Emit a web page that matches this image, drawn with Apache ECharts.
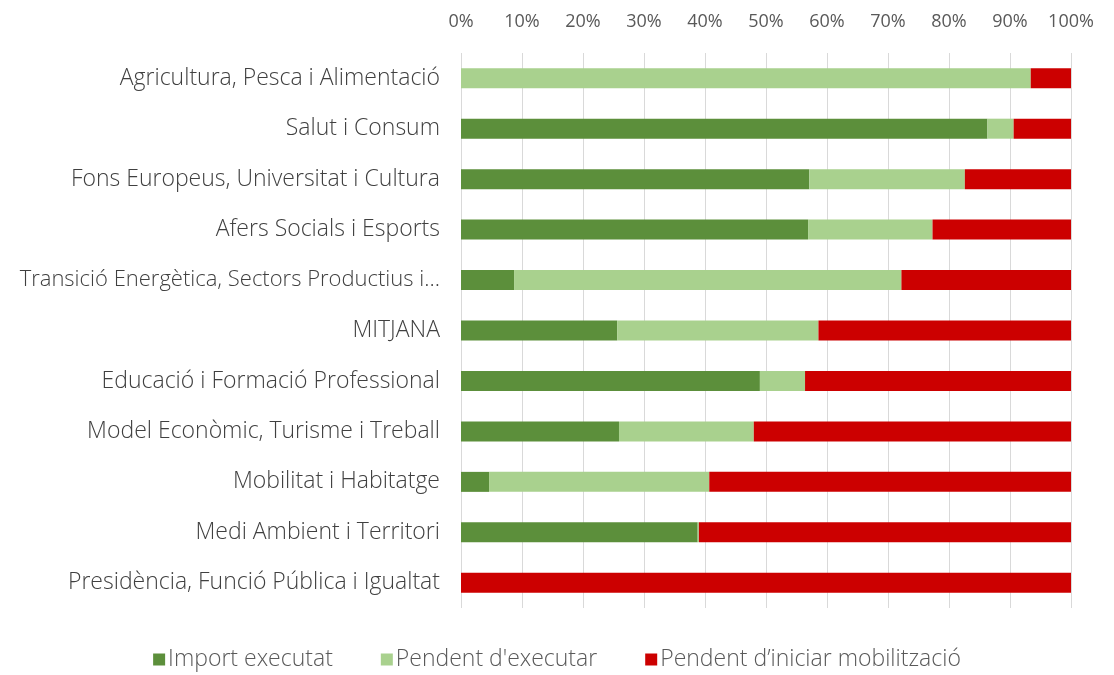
<!DOCTYPE html>
<html>
<head>
<meta charset="utf-8">
<style>
  html, body { margin: 0; padding: 0; background: #fff; }
  #chart { width: 1114px; height: 675px; }
</style>
<script src="https://cdn.jsdelivr.net/npm/echarts@6/dist/echarts.min.js"></script>
</head>
<body>
<div id="chart"></div>
<script>
(function(){
  'use strict';
  // categories, top to bottom
  var categories = [
    'Agricultura, Pesca i Alimentació',
    'Salut i Consum',
    'Fons Europeus, Universitat i Cultura',
    'Afers Socials i Esports',
    'Transició Energètica, Sectors Productius i Memòria Democràtica',
    'MITJANA',
    'Educació i Formació Professional',
    'Model Econòmic, Turisme i Treball',
    'Mobilitat i Habitatge',
    'Medi Ambient i Territori',
    'Presidència, Funció Pública i Igualtat'
  ];
  var seriesNames = ['Import executat', 'Pendent d\'executar', 'Pendent d\u2019iniciar mobilització'];
  // shares in %
  var executat   = [0,    86.3, 57.1, 56.9, 8.7,  25.6, 49.0, 25.9, 4.6,  38.8, 0];
  var pendent    = [93.4, 4.3,  25.5, 20.4, 63.5, 33.0, 7.4,  22.1, 36.1, 0.2,  0];
  var noIniciat  = [6.6,  9.4,  17.4, 22.7, 27.8, 41.4, 43.6, 52.0, 59.3, 61.0, 100];
  var colors = ['#5C8F3B', '#A9D18E', '#CC0000'];
  var tickLabels = ['0%','10%','20%','30%','40%','50%','60%','70%','80%','90%','100%'];

  var fontFam = '"Open Sans", Lato, sans-serif';
  var values = [executat, pendent, noIniciat];

  // the long label is shown slightly smaller so more of it fits
  var yData = categories.map(function(c){
    return c.length > 45 ? { value: c, textStyle: { fontSize: 22 } } : c;
  });

  var chart = echarts.init(document.getElementById('chart'));
  chart.setOption({
    animation: false,
    color: colors,
    textStyle: { fontFamily: fontFam },
    grid: { left: 461, right: 43, top: 53, bottom: 67, containLabel: false },
    legend: {
      top: 643,
      left: 'center',
      itemWidth: 12, itemHeight: 12, itemGap: 48,
      icon: 'rect',
      textStyle: { fontSize: 23, fontWeight: 300, color: '#595959', fontFamily: fontFam, padding: [0, 0, 0, -2] },
      data: seriesNames
    },
    xAxis: {
      type: 'value',
      position: 'top',
      min: 0, max: 100, interval: 10,
      axisLine: { show: false },
      axisTick: { show: false },
      splitLine: { show: true, lineStyle: { color: '#D9D9D9', width: 1 } },
      axisLabel: {
        color: '#595959', fontSize: 18, margin: 22,
        formatter: function(v){ return tickLabels[Math.round(v / 10)]; }
      }
    },
    yAxis: {
      type: 'category',
      inverse: true,
      data: yData,
      axisLine: { show: false },
      axisTick: { show: false },
      axisLabel: {
        color: '#404040', fontSize: 23, fontWeight: 300, margin: 21,
        width: 436, overflow: 'truncate', ellipsis: '\u2026'
      }
    },
    series: values.map(function(arr, i){
      return {
        name: seriesNames[i],
        type: 'bar',
        stack: 'total',
        barWidth: 20,
        data: arr,
        itemStyle: { color: colors[i] }
      };
    })
  });
})();
</script>
</body>
</html>
